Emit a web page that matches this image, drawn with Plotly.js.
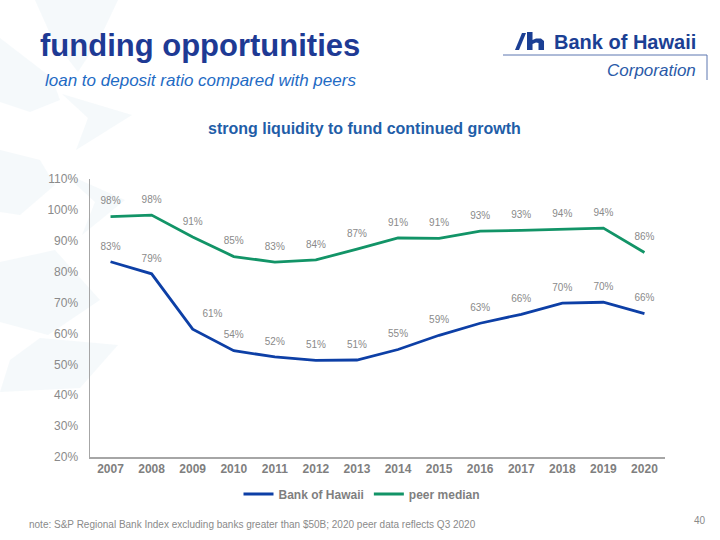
<!DOCTYPE html>
<html>
<head>
<meta charset="utf-8">
<script src="https://cdn.plot.ly/plotly-3.0.1.min.js"></script>
<style>
html,body{margin:0;padding:0;background:#fff;}
#chart{width:720px;height:540px;}
</style>
</head>
<body>
<div id="chart"></div>
<script>
// ---- data ----
var years = ["2007","2008","2009","2010","2011","2012","2013","2014","2015","2016","2017","2018","2019","2020"];
var bankOfHawaii = [83.2, 79.3, 61.4, 54.4, 52.4, 51.3, 51.4, 54.8, 59.4, 63.3, 66.2, 69.8, 70.1, 66.4];
var peerMedian   = [97.8, 98.3, 91.2, 84.9, 83.1, 83.8, 87.3, 90.9, 90.8, 93.1, 93.4, 93.8, 94.1, 86.2];
var seriesNames = ["Bank of Hawaii", "peer median"];

// ---- layout helpers (page pixels -> paper coords) ----
var W = 720, H = 540;
var M = {l: 90, r: 55, t: 179, b: 83};
var PW = W - M.l - M.r, PH = H - M.t - M.b;
function px(x){ return (x - M.l) / PW; }
function py(y){ return (H - M.b - y) / PH; }
function poly(pts){
  return 'M' + pts.map(function(p){ return px(p[0]).toFixed(4) + ',' + py(p[1]).toFixed(4); }).join(' L') + ' Z';
}

var FONT = 'Arial, "Liberation Sans", sans-serif';
var GRAY = '#8a8a8a';
var BLUE = '#0d3fa6', GREEN = '#129467';

// label placement: steep drop at 2009 pushes that label to the right
var bohTextPos = years.map(function(y){ return y === '2009' ? 'top right' : 'top center'; });

function lineTrace(vals, name, color){
  return {x: years, y: vals, name: name, type: 'scatter', mode: 'lines',
          line: {color: color, width: 2.8}, hoverinfo: 'skip'};
}
function labelTrace(vals, pos){
  return {x: years, y: vals, type: 'scatter', mode: 'markers+text', showlegend: false,
          marker: {size: 14, opacity: 0, color: '#ffffff'},
          texttemplate: '%{y:.0f}%', textposition: pos,
          textfont: {family: FONT, size: 10, color: GRAY},
          cliponaxis: false, hoverinfo: 'skip'};
}

var traces = [
  lineTrace(bankOfHawaii, seriesNames[0], BLUE),
  lineTrace(peerMedian, seriesNames[1], GREEN),
  labelTrace(bankOfHawaii, bohTextPos),
  labelTrace(peerMedian, 'top center')
];

// faint decorative background star pattern
var bgFill = 'rgba(214,232,238,0.25)';
var bgShapes = [
  [[35,0],[118,0],[100,38],[78,72],[52,38]],
  [[0,38],[52,78],[60,100],[30,112],[0,102]],
  [[62,94],[132,115],[76,150],[88,118]],
  [[0,150],[40,160],[55,185],[20,215],[0,212]],
  [[62,172],[125,200],[82,235],[95,202]],
  [[0,262],[55,250],[100,300],[48,335],[0,322]],
  [[40,338],[118,345],[80,388],[0,392],[10,360]]
].map(function(pts){
  return {type:'path', xref:'paper', yref:'paper', path: poly(pts),
          fillcolor: bgFill, line:{width:0}, layer:'below'};
});

// logo icon + rules
var logoColor = '#1b3f94';
var logoShapes = [
  {type:'path', xref:'paper', yref:'paper', path: poly([[515,50],[519,50],[526,33],[522,33]]), fillcolor: logoColor, line:{width:0}},
  {type:'path', xref:'paper', yref:'paper',
   path: poly([[527,32],[532.5,32],[532.5,40],[536,38.5],[541,38.5],[544,41],[544,50],[538.5,50],[538.5,43],[536,42.5],[532.5,44],[532.5,50],[527,50]]),
   fillcolor: logoColor, line:{width:0}},
  {type:'line', xref:'paper', yref:'paper', x0: px(503), x1: px(707), y0: py(55), y1: py(55), line:{color:'#5c77b0', width:1}},
  {type:'line', xref:'paper', yref:'paper', x0: px(707), x1: px(707), y0: py(55), y1: py(80), line:{color:'#5c77b0', width:1}}
];

var annotations = [
  {text:'<b>funding opportunities</b>', x: px(38), y: py(45), xanchor:'left', yanchor:'middle',
   font:{family: FONT, size: 31, color:'#1e3a94'}},
  {text:'<i>loan to deposit ratio compared with peers</i>', x: px(43), y: py(80), xanchor:'left', yanchor:'middle',
   font:{family: FONT, size: 17, color:'#1f6bc4'}},
  {text:'<b>strong liquidity to fund continued growth</b>', x: px(364), y: py(128), xanchor:'center', yanchor:'middle',
   font:{family: FONT, size: 16, color:'#1f5ea8'}},
  {text:'<b>Bank of Hawaii</b>', x: px(698), y: py(42), xanchor:'right', yanchor:'middle',
   font:{family: FONT, size: 20, color: logoColor}},
  {text:'<i>Corporation</i>', x: px(698), y: py(70), xanchor:'right', yanchor:'middle',
   font:{family: FONT, size: 17, color:'#2a5aa8'}},
  {text:'note: S&P Regional Bank Index excluding banks greater than $50B; 2020 peer data reflects Q3 2020',
   x: px(27), y: py(524), xanchor:'left', yanchor:'middle',
   font:{family: FONT, size: 10, color: GRAY}},
  {text:'40', x: px(708), y: py(520), xanchor:'right', yanchor:'middle',
   font:{family: FONT, size: 10, color: GRAY}}
].map(function(a){ a.xref='paper'; a.yref='paper'; a.showarrow=false; return a; });

var layout = {
  width: W, height: H,
  margin: M,
  paper_bgcolor: '#ffffff', plot_bgcolor: 'rgba(0,0,0,0)',
  font: {family: FONT, color: GRAY},
  showlegend: true,
  legend: {orientation:'h', x: px(362), xanchor:'center', y: py(494), yanchor:'middle',
           font:{family: FONT, size: 12, color:'#7f7f7f', weight: 'bold'}, bgcolor:'rgba(0,0,0,0)'},
  xaxis: {type:'category', range:[-0.5, 13.5], autorange:false, showgrid:false, zeroline:false, showline:true,
          linecolor:'#a6a6a6', linewidth:1.5,
          ticks:'', tickfont:{family: FONT, size: 12, color:'#7f7f7f', weight:'bold'}, fixedrange:true},
  yaxis: {range:[20,110], autorange:false, dtick:10, ticksuffix:'%', showgrid:false, zeroline:false, showline:true,
          linecolor:'#a6a6a6', linewidth:1.5, ticks:'', ticklabelstandoff: 8,
          tickfont:{family: FONT, size: 12, color: GRAY}, fixedrange:true},
  shapes: bgShapes.concat(logoShapes),
  annotations: annotations
};

Plotly.newPlot('chart', traces, layout, {displayModeBar:false, staticPlot:true});
</script>
</body>
</html>
